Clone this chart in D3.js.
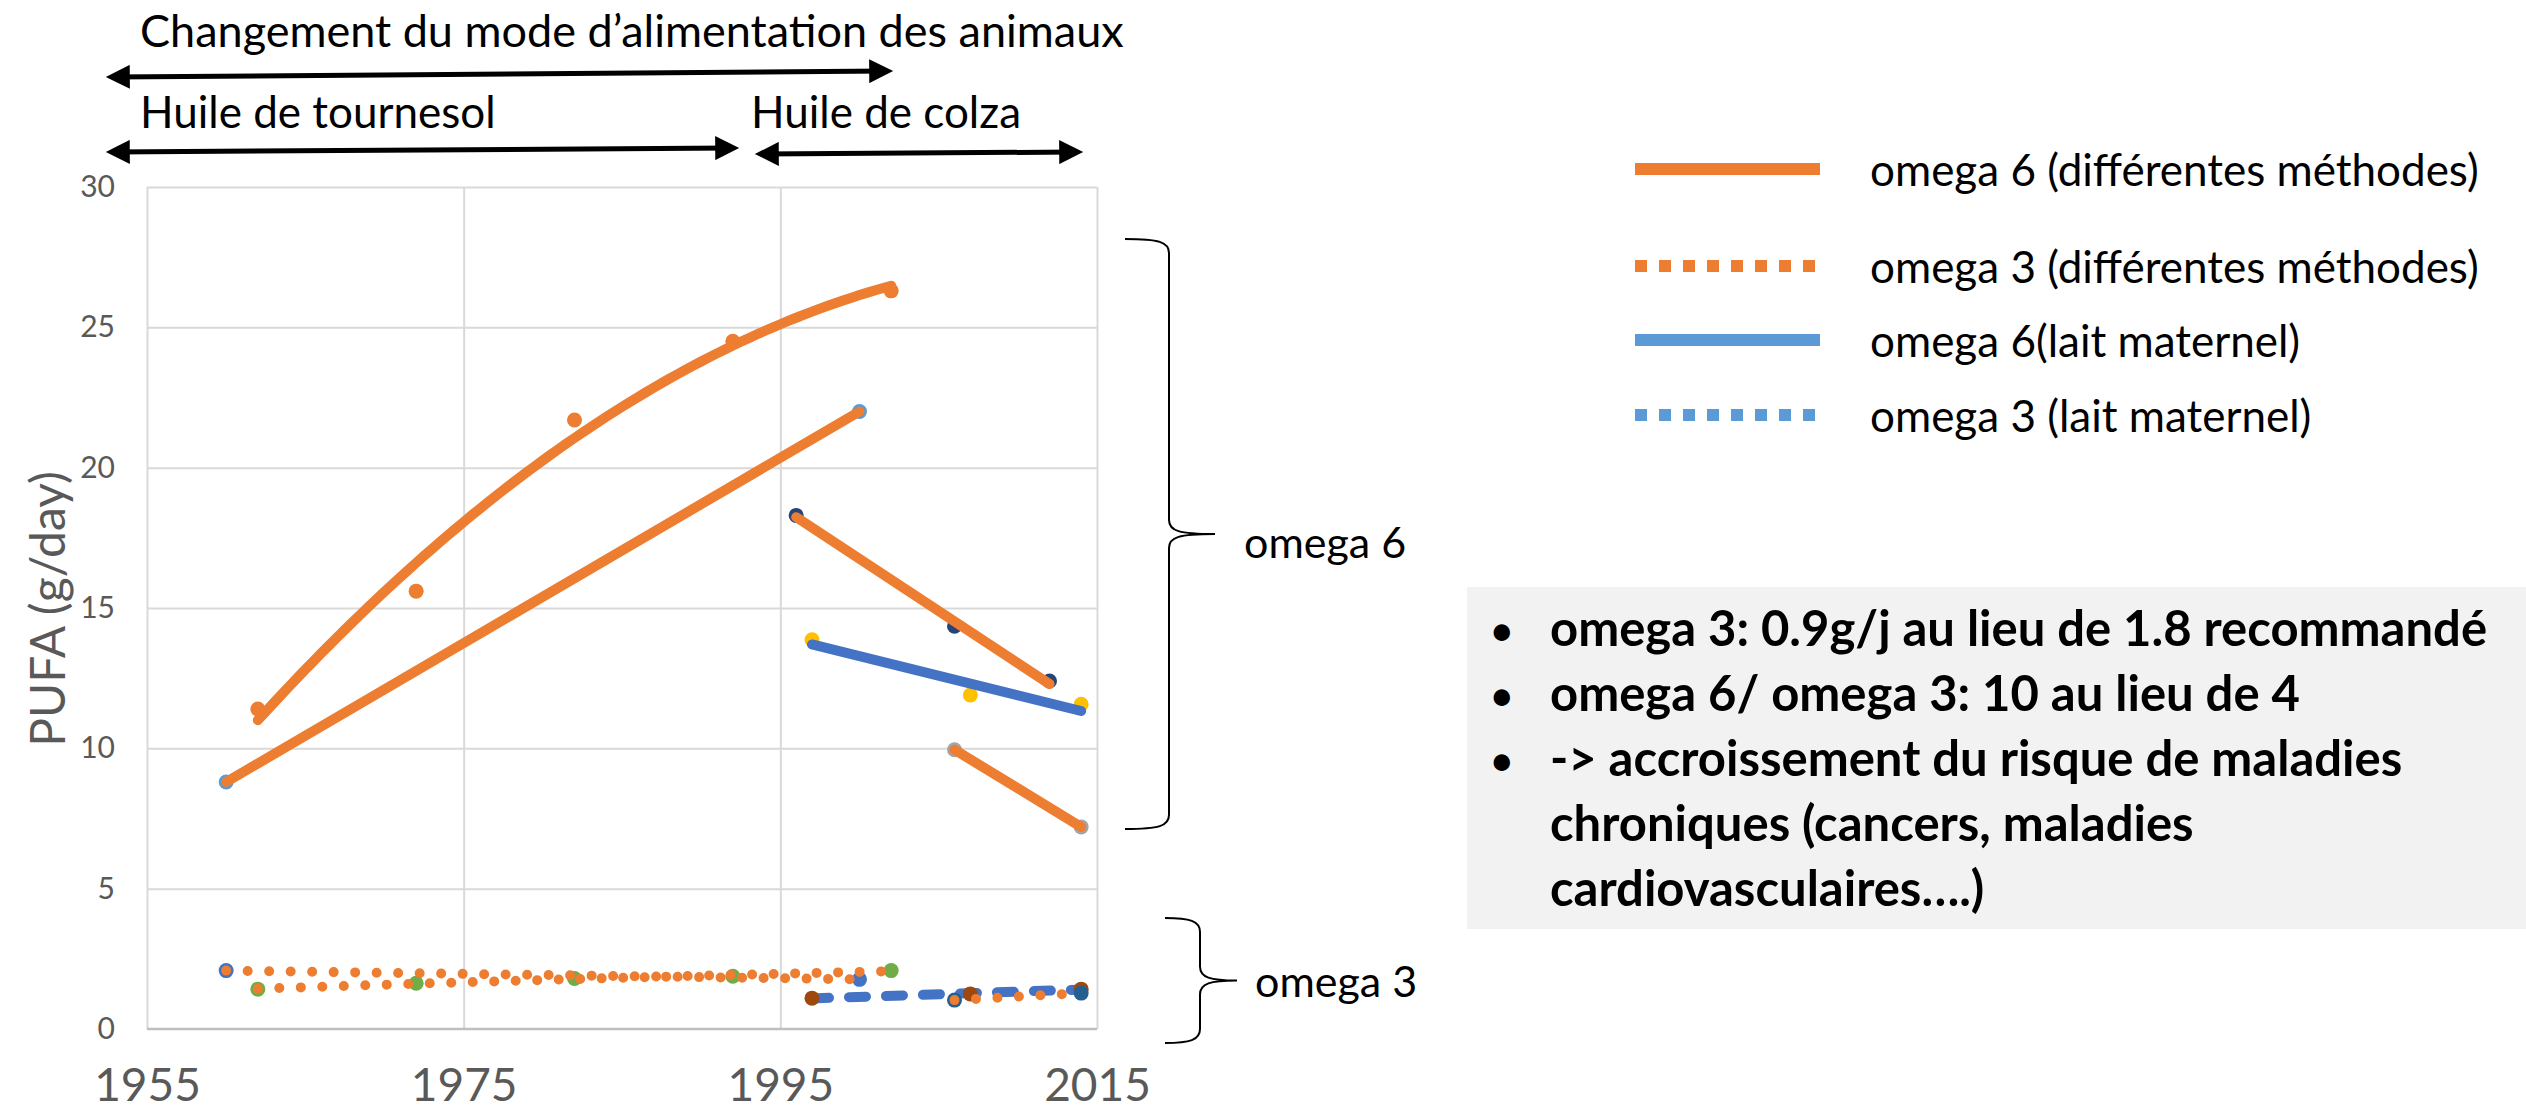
<!DOCTYPE html>
<html>
<head>
<meta charset="utf-8">
<script src="https://cdn.jsdelivr.net/npm/d3@7"></script>
<style>
  body { margin: 0; background: #fff; }
  text { font-family: Lato, "Open Sans", sans-serif; }
</style>
</head>
<body>
<div id="chart"></div>
<script>
// ---- data ----
var xTicks = [1955, 1975, 1995, 2015],
    yTicks = [0, 5, 10, 15, 20, 25, 30];

// omega 6, différentes méthodes (one series per study)
var o6Years1 = [1962, 1972, 1982, 1992, 2002],
    o6Values1 = [11.4, 15.6, 21.7, 24.5, 26.3];
var o6Years2 = [1960, 2000],
    o6Values2 = [8.8, 22.0];
var o6Years3 = [1996, 2006, 2012],
    o6Values3 = [18.3, 14.35, 12.4];
var o6Years4 = [2006, 2014],
    o6Values4 = [9.95, 7.2];
// omega 6, lait maternel
var o6MilkYears = [1997, 2007, 2014],
    o6MilkValues = [13.87, 11.9, 11.57];

// omega 3, différentes méthodes
var o3Years1 = [1962, 1972, 1982, 1992, 2002],
    o3Values1 = [1.42, 1.63, 1.8, 1.88, 2.08];
var o3Years2 = [1960, 2000],
    o3Values2 = [2.08, 1.77];
var o3Years4 = [2006, 2014],
    o3Values4 = [1.03, 1.28];
// omega 3, lait maternel
var o3MilkYears = [1997, 2007, 2014],
    o3MilkValues = [1.1, 1.25, 1.42];

var legendLabels = ["omega 6 (différentes méthodes)", "omega 3 (différentes méthodes)",
                    "omega 6(lait maternel)", "omega 3 (lait maternel)"];
var noteLines = ["omega 3: 0.9g/j au lieu de 1.8 recommandé",
                 "omega 6/ omega 3: 10 au lieu de 4",
                 "-> accroissement du risque de maladies",
                 "chroniques (cancers, maladies",
                 "cardiovasculaires….)"];
var noteBullets = [true, true, true, false, false];

// ---- layout ----
var W = 2526, H = 1112,
    plot = {left: 147, right: 1097, top: 187, bottom: 1029};

var orange = "#ed7d31", blue = "#4472c4", lightBlue = "#5b9bd5", grey = "#595959";

var x = d3.scaleLinear().domain([1955, 2015]).range([plot.left, plot.right]),
    y = d3.scaleLinear().domain([0, 30]).range([plot.bottom, plot.top]);

var svg = d3.select("#chart").append("svg")
    .attr("width", W)
    .attr("height", H);

// gridlines
svg.append("g")
    .attr("transform", "translate(0," + plot.bottom + ")")
    .call(d3.axisBottom(x).tickValues(xTicks).tickSize(-(plot.bottom - plot.top)).tickFormat(""))
    .call(function(g) { g.select(".domain").remove(); })
    .selectAll("line").attr("stroke", "#d9d9d9").attr("stroke-width", 2);

svg.append("g")
    .attr("transform", "translate(" + plot.left + ",0)")
    .call(d3.axisLeft(y).tickValues(yTicks.slice(1)).tickSize(-(plot.right - plot.left)).tickFormat(""))
    .call(function(g) { g.select(".domain").remove(); })
    .selectAll("line").attr("stroke", "#d9d9d9").attr("stroke-width", 2);

svg.append("line")
    .attr("x1", plot.left).attr("x2", plot.right)
    .attr("y1", y(0)).attr("y2", y(0))
    .attr("stroke", "#bfbfbf").attr("stroke-width", 2.5);

// tick labels
svg.append("g")
    .attr("transform", "translate(0," + plot.bottom + ")")
    .call(d3.axisBottom(x).tickValues(xTicks).tickSize(0).tickPadding(39).tickFormat(d3.format("d")))
    .call(function(g) { g.select(".domain").remove(); })
    .selectAll("text")
    .attr("fill", grey)
    .style("font-size", "46px")
    .style("font-family", "Lato, sans-serif");

svg.append("g")
    .attr("transform", "translate(" + plot.left + ",0)")
    .call(d3.axisLeft(y).tickValues(yTicks).tickSize(0).tickPadding(32))
    .call(function(g) { g.select(".domain").remove(); })
    .selectAll("text")
    .attr("fill", grey)
    .style("font-size", "30px")
    .style("font-family", "Lato, sans-serif");

svg.append("text")
    .attr("transform", "translate(46,609) rotate(-90)")
    .attr("text-anchor", "middle")
    .attr("dominant-baseline", "central")
    .attr("fill", grey)
    .style("font-size", "48px")
    .text("PUFA (g/day)");

// ---- trendlines (least squares, like the spreadsheet trendlines) ----
function fitTrend(xs, ys, order) {
  var x0 = d3.mean(xs), m = order + 1, A = [], b = [];
  for (var i = 0; i < m; i++) {
    A.push([]);
    for (var j = 0; j < m; j++)
      A[i].push(d3.sum(xs, function(v) { return Math.pow(v - x0, i + j); }));
    b.push(d3.sum(xs, function(v, k) { return Math.pow(v - x0, i) * ys[k]; }));
  }
  for (var c = 0; c < m; c++) {
    for (var r = c + 1; r < m; r++) {
      var f = A[r][c] / A[c][c];
      for (var k = c; k < m; k++) A[r][k] -= f * A[c][k];
      b[r] -= f * b[c];
    }
  }
  var coef = [];
  for (var r = m - 1; r >= 0; r--) {
    var s = b[r];
    for (var k = r + 1; k < m; k++) s -= A[r][k] * coef[k];
    coef[r] = s / A[r][r];
  }
  return function(v) {
    var t = v - x0;
    return coef.reduce(function(acc, cf, p) { return acc + cf * Math.pow(t, p); }, 0);
  };
}

var series = [
  {years: o6Years1, values: o6Values1, order: 2, marker: "#ed7d31", line: orange, style: "solid"},
  {years: o6Years2, values: o6Values2, order: 1, marker: "#5b9bd5", line: orange, style: "solid"},
  {years: o6Years3, values: o6Values3, order: 1, marker: "#264478", line: orange, style: "solid"},
  {years: o6Years4, values: o6Values4, order: 1, marker: "#a5a5a5", line: orange, style: "solid"},
  {years: o6MilkYears, values: o6MilkValues, order: 1, marker: "#ffc000", line: blue, style: "solid"},
  {years: o3Years1, values: o3Values1, order: 2, marker: "#70ad47", line: orange, style: "dot"},
  {years: o3Years2, values: o3Values2, order: 1, marker: "#4472c4", line: orange, style: "dot"},
  {years: o3MilkYears, values: o3MilkValues, order: 1, marker: "#9e480e", line: blue, style: "dash", under: true},
  {years: o3Years4, values: o3Values4, order: 1, marker: "#255e91", line: orange, style: "dot"}
];

var line = d3.line()
    .x(function(d) { return x(d[0]); })
    .y(function(d) { return y(d[1]); });

function drawTrend(s) {
  var f = fitTrend(s.years, s.values, s.order),
      lo = d3.min(s.years), hi = d3.max(s.years),
      xs = s.order === 1 ? [lo, hi] : d3.range(lo, hi, 0.5).concat([hi]);
  var path = svg.append("path")
      .datum(xs.map(function(v) { return [v, f(v)]; }))
      .attr("d", line)
      .attr("fill", "none")
      .attr("stroke", s.line)
      .attr("stroke-width", 10)
      .attr("stroke-linecap", "round");
  if (s.style === "dot") path.attr("stroke-dasharray", "0 21.5");
  if (s.style === "dash") path.attr("stroke-dasharray", "17 20");
}

series.filter(function(s) { return s.under; }).forEach(drawTrend);

series.forEach(function(s) {
  svg.append("g").selectAll("circle")
    .data(d3.zip(s.years, s.values))
    .enter().append("circle")
      .attr("cx", function(d) { return x(d[0]); })
      .attr("cy", function(d) { return y(d[1]); })
      .attr("r", 7.5)
      .attr("fill", s.marker);
});

series.filter(function(s) { return !s.under; }).forEach(drawTrend);

// ---- top annotations with arrows ----
var defs = svg.append("defs");
defs.append("marker")
    .attr("id", "head")
    .attr("viewBox", "0 0 10 10")
    .attr("refX", 7).attr("refY", 5)
    .attr("markerWidth", 5.4).attr("markerHeight", 4.8)
    .attr("markerUnits", "strokeWidth")
    .attr("orient", "auto-start-reverse")
  .append("path")
    .attr("d", "M0,0 L10,5 L0,10 z")
    .attr("fill", "#000");

var arrows = [
  [113, 77, 886, 71],
  [113, 152, 732, 148],
  [762, 154, 1076, 152]
];
svg.append("g").selectAll("line")
  .data(arrows)
  .enter().append("line")
    .attr("x1", function(d) { return d[0]; })
    .attr("y1", function(d) { return d[1]; })
    .attr("x2", function(d) { return d[2]; })
    .attr("y2", function(d) { return d[3]; })
    .attr("stroke", "#000")
    .attr("stroke-width", 5)
    .attr("marker-start", "url(#head)")
    .attr("marker-end", "url(#head)");

svg.append("text").attr("x", 140).attr("y", 47).style("font-size", "45px").text("Changement du mode d’alimentation des animaux");
svg.append("text").attr("x", 140).attr("y", 128).style("font-size", "44px").text("Huile de tournesol");
svg.append("text").attr("x", 751).attr("y", 128).style("font-size", "44px").text("Huile de colza");

// ---- braces ----
function brace(xTip, xBar, xMid, y0, y1) {
  var ym = (y0 + y1) / 2, r = 14;
  return "M" + xTip + "," + y0 +
    " C" + (xBar - 10) + "," + y0 + " " + xBar + "," + (y0 + 3) + " " + xBar + "," + (y0 + r) +
    " L" + xBar + "," + (ym - r) +
    " C" + xBar + "," + (ym - 3) + " " + (xBar + 10) + "," + ym + " " + xMid + "," + ym +
    " C" + (xBar + 10) + "," + ym + " " + xBar + "," + (ym + 3) + " " + xBar + "," + (ym + r) +
    " L" + xBar + "," + (y1 - r) +
    " C" + xBar + "," + (y1 - 3) + " " + (xBar - 10) + "," + y1 + " " + xTip + "," + y1;
}
svg.append("path").attr("d", brace(1125, 1169, 1215, 239, 829))
    .attr("fill", "none").attr("stroke", "#000").attr("stroke-width", 2);
svg.append("path").attr("d", brace(1165, 1200, 1237, 918, 1043))
    .attr("fill", "none").attr("stroke", "#000").attr("stroke-width", 2);
svg.append("text").attr("x", 1244).attr("y", 541).attr("dominant-baseline", "central")
    .style("font-size", "43px").text("omega 6");
svg.append("text").attr("x", 1255).attr("y", 980).attr("dominant-baseline", "central")
    .style("font-size", "43px").text("omega 3");

// ---- legend ----
var legendStyles = [
  {color: orange, dash: null},
  {color: orange, dash: "12 12"},
  {color: lightBlue, dash: null},
  {color: lightBlue, dash: "12 12"}
];
var legendY = [169, 266, 340, 415];

var legend = svg.append("g").selectAll("g")
  .data(legendLabels)
  .enter().append("g")
    .attr("transform", function(d, i) { return "translate(0," + legendY[i] + ")"; });
legend.append("line")
    .attr("x1", 1635).attr("x2", 1820)
    .attr("stroke", function(d, i) { return legendStyles[i].color; })
    .attr("stroke-width", 12)
    .attr("stroke-dasharray", function(d, i) { return legendStyles[i].dash; });
legend.append("text")
    .attr("x", 1870)
    .attr("dominant-baseline", "central")
    .style("font-size", "44px")
    .text(function(d) { return d; });

// ---- note box ----
svg.append("rect")
    .attr("x", 1467).attr("y", 587)
    .attr("width", W - 1467).attr("height", 342)
    .attr("fill", "#f2f2f2");

var note = svg.append("g").selectAll("g")
  .data(noteLines)
  .enter().append("g")
    .attr("transform", function(d, i) { return "translate(0," + (646 + i * 65) + ")"; });
note.filter(function(d, i) { return noteBullets[i]; })
  .append("text")
    .attr("x", 1489)
    .style("font-size", "44px")
    .text("•");
note.append("text")
    .attr("x", 1550)
    .style("font-size", "49px")
    .style("font-weight", "bold")
    .text(function(d) { return d; });
</script>
</body>
</html>
